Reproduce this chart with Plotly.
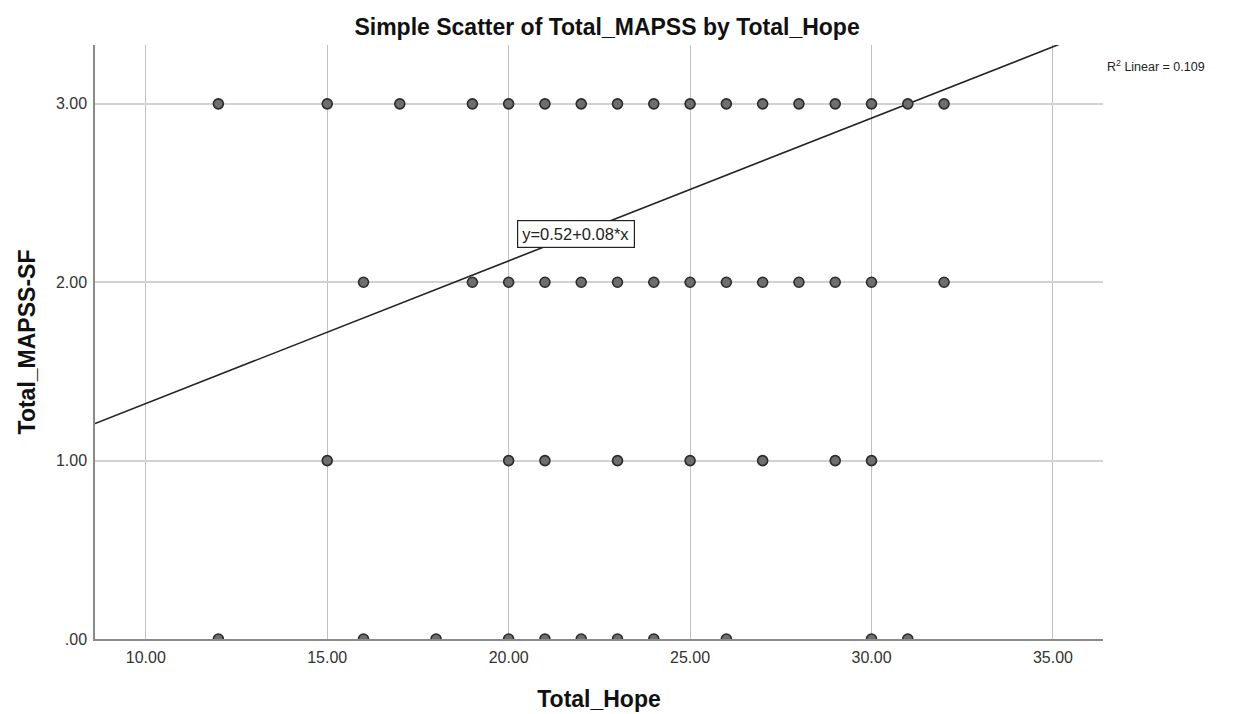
import plotly.graph_objects as go

# Total_Hope scores observed at each Total_MAPSS-SF level
hope_at_3 = [12, 15, 17, 19, 20, 21, 22, 23, 24, 25, 26, 27, 28, 29, 30, 31, 32]
hope_at_2 = [16, 19, 20, 21, 22, 23, 24, 25, 26, 27, 28, 29, 30, 32]
hope_at_1 = [15, 20, 21, 23, 25, 27, 29, 30]
hope_at_0 = [12, 16, 18, 20, 21, 22, 23, 24, 26, 30, 31]

mapss_levels = [3.0, 2.0, 1.0, 0.0]
hope_groups = [hope_at_3, hope_at_2, hope_at_1, hope_at_0]

# Linear fit reported with the chart
intercept = 0.52
slope = 0.08
r_squared = 0.109

x_ticks = [10, 15, 20, 25, 30, 35]
x_tick_text = ["10.00", "15.00", "20.00", "25.00", "30.00", "35.00"]
y_ticks = [0, 1, 2, 3]
y_tick_text = [".00", "1.00", "2.00", "3.00"]

x_range = [8.6, 36.38]
y_range = [0, 3.33]

xs, ys = [], []
for level, group in zip(mapss_levels, hope_groups):
    xs.extend(group)
    ys.extend([level] * len(group))

fig = go.Figure()

fit_x = [x_range[0], x_range[1]]
fit_y = [intercept + slope * v for v in fit_x]
fig.add_trace(go.Scatter(
    x=fit_x, y=fit_y, mode="lines",
    line=dict(color="#222222", width=1.6),
    hoverinfo="skip", showlegend=False,
))

fig.add_trace(go.Scatter(
    x=xs, y=ys, mode="markers",
    marker=dict(size=10, color="#6e6e6e", line=dict(color="#2b2b2b", width=1.6)),
    cliponaxis=True, showlegend=False,
))

font_family = "Liberation Sans, Arial, sans-serif"

fig.update_layout(
    width=1235, height=714,
    margin=dict(l=95, r=132, t=45, b=75),
    paper_bgcolor="white", plot_bgcolor="white",
    font=dict(family=font_family, color="#222222", size=16),
    title=dict(
        text="<b>Simple Scatter of Total_MAPSS by Total_Hope</b>",
        x=0.508, xref="paper", xanchor="center", y=0.962, yanchor="middle",
        font=dict(size=23, color="#111111"),
    ),
    xaxis=dict(
        range=x_range, tickvals=x_ticks, ticktext=x_tick_text,
        showgrid=True, gridcolor="#c0c0c0", gridwidth=1.2,
        showline=True, linecolor="#8a8a8a", linewidth=1.5,
        zeroline=False, ticks="", ticklabelstandoff=3, automargin=False,
        tickfont=dict(size=16, color="#333333"),
        title=dict(text="<b>Total_Hope</b>", font=dict(size=23, color="#111111"), standoff=26),
    ),
    yaxis=dict(
        range=y_range, tickvals=y_ticks, ticktext=y_tick_text,
        showgrid=True, gridcolor="#d2d2d2", gridwidth=2,
        showline=True, linecolor="#8a8a8a", linewidth=1.5,
        zeroline=False, ticks="", ticklabelstandoff=3, automargin=False,
        tickfont=dict(size=16, color="#333333"),
        title=dict(text="<b>Total_MAPSS-SF</b>", font=dict(size=23, color="#111111"), standoff=14),
    ),
    annotations=[
        dict(
            x=21.85, y=2.27, xref="x", yref="y",
            text=f"y={intercept:.2f}+{slope:.2f}*x",
            showarrow=False, bgcolor="white",
            bordercolor="#222222", borderwidth=1.2, borderpad=4,
            font=dict(size=16.5, color="#222222"),
        ),
        dict(
            x=1.002, y=0.965, xref="paper", yref="paper",
            xanchor="left", yanchor="middle",
            text=f"R<sup>2</sup> Linear = {r_squared:.3f}",
            showarrow=False, font=dict(size=12.5, color="#222222"),
        ),
    ],
)

fig.write_html("out.html")
